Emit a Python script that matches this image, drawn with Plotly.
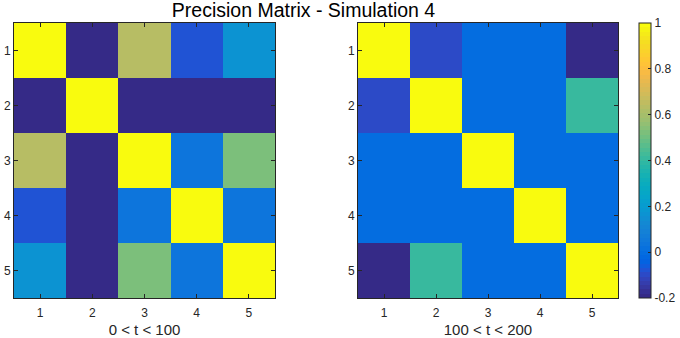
import plotly.graph_objects as go

# ---- data ----
idx = [1, 2, 3, 4, 5]
tick_labels = ["1", "2", "3", "4", "5"]
left_matrix = [
    [1.00, -0.20, 0.635, -0.08, 0.165],
    [-0.20, 1.00, -0.20, -0.20, -0.20],
    [0.635, -0.20, 1.00, 0.035, 0.52],
    [-0.08, -0.20, 0.035, 1.00, 0.035],
    [0.165, -0.20, 0.52, 0.035, 1.00],
]
right_matrix = [
    [1.00, -0.10, 0.00, 0.00, -0.20],
    [-0.10, 1.00, 0.00, 0.00, 0.41],
    [0.00, 0.00, 1.00, 0.00, 0.00],
    [0.00, 0.00, 0.00, 1.00, 0.00],
    [-0.20, 0.41, 0.00, 0.00, 1.00],
]
cbar_vals = [-0.2, 0, 0.2, 0.4, 0.6, 0.8, 1]
cbar_text = ["-0.2", "0", "0.2", "0.4", "0.6", "0.8", "1"]
title_text = "Precision Matrix - Simulation 4"
left_xlabel = "0 < t < 100"
right_xlabel = "100 < t < 200"

# ---- parula colormap (64 entries) ----
parula = [
    [0.2081, 0.1663, 0.5292], [0.2116, 0.1898, 0.5777], [0.2123, 0.2138, 0.6270], [0.2081, 0.2386, 0.6771],
    [0.1959, 0.2645, 0.7279], [0.1707, 0.2919, 0.7792], [0.1253, 0.3242, 0.8303], [0.0591, 0.3598, 0.8683],
    [0.0117, 0.3875, 0.8820], [0.0060, 0.4086, 0.8828], [0.0165, 0.4266, 0.8786], [0.0329, 0.4430, 0.8720],
    [0.0498, 0.4586, 0.8641], [0.0629, 0.4737, 0.8554], [0.0723, 0.4887, 0.8467], [0.0779, 0.5040, 0.8384],
    [0.0793, 0.5200, 0.8312], [0.0749, 0.5375, 0.8263], [0.0641, 0.5570, 0.8240], [0.0488, 0.5772, 0.8228],
    [0.0343, 0.5966, 0.8199], [0.0265, 0.6137, 0.8135], [0.0239, 0.6287, 0.8038], [0.0231, 0.6418, 0.7913],
    [0.0228, 0.6535, 0.7768], [0.0267, 0.6642, 0.7607], [0.0384, 0.6743, 0.7436], [0.0590, 0.6838, 0.7254],
    [0.0843, 0.6928, 0.7062], [0.1133, 0.7015, 0.6859], [0.1453, 0.7098, 0.6646], [0.1801, 0.7177, 0.6424],
    [0.2178, 0.7250, 0.6193], [0.2586, 0.7317, 0.5954], [0.3022, 0.7376, 0.5712], [0.3482, 0.7424, 0.5473],
    [0.3953, 0.7459, 0.5244], [0.4420, 0.7481, 0.5033], [0.4871, 0.7491, 0.4840], [0.5300, 0.7491, 0.4661],
    [0.5709, 0.7485, 0.4494], [0.6099, 0.7473, 0.4337], [0.6473, 0.7456, 0.4188], [0.6834, 0.7435, 0.4044],
    [0.7184, 0.7411, 0.3905], [0.7525, 0.7384, 0.3768], [0.7858, 0.7356, 0.3633], [0.8185, 0.7327, 0.3498],
    [0.8507, 0.7299, 0.3360], [0.8824, 0.7274, 0.3217], [0.9139, 0.7258, 0.3063], [0.9450, 0.7261, 0.2886],
    [0.9739, 0.7314, 0.2666], [0.9938, 0.7455, 0.2403], [0.9990, 0.7653, 0.2164], [0.9955, 0.7861, 0.1967],
    [0.9880, 0.8066, 0.1794], [0.9789, 0.8271, 0.1633], [0.9697, 0.8481, 0.1475], [0.9626, 0.8705, 0.1309],
    [0.9589, 0.8949, 0.1132], [0.9598, 0.9218, 0.0948], [0.9661, 0.9514, 0.0755], [0.9763, 0.9831, 0.0538],
]
n = len(parula)
colorscale = []
for i, (r, g, b) in enumerate(parula):
    c = f"rgb({round(r*255)},{round(g*255)},{round(b*255)})"
    colorscale.append([i / n, c])
    colorscale.append([(i + 1) / n if i < n - 1 else 1.0, c])

W, H = 680, 338
def px_x(p): return p / W
def px_y(p): return 1 - p / H

top, bottom = 23, 298
axis_color = "#262626"
font_family = "Liberation Sans, Arial, sans-serif"

fig = go.Figure()
fig.add_trace(go.Heatmap(z=left_matrix, x=idx, y=idx, colorscale=colorscale, zmin=-0.2, zmax=1,
                         showscale=False, xaxis="x", yaxis="y"))
fig.add_trace(go.Heatmap(z=right_matrix, x=idx, y=idx, colorscale=colorscale, zmin=-0.2, zmax=1,
                         xaxis="x2", yaxis="y2",
                         colorbar=dict(x=px_x(639), xanchor="left", xref="paper",
                                       y=px_y(bottom), yanchor="bottom", yref="paper",
                                       len=(bottom - top) / H, lenmode="fraction",
                                       thickness=12, thicknessmode="pixels",
                                       outlinewidth=1, outlinecolor=axis_color,
                                       ticks="inside", ticklen=3, tickcolor=axis_color,
                                       tickvals=cbar_vals, ticktext=cbar_text,
                                       tickfont=dict(size=12, color=axis_color, family=font_family),
                                       xpad=0, ypad=0)))

common_x = dict(range=[0.5, 5.5], tickvals=idx, ticktext=tick_labels, ticks="inside", ticklen=4,
                tickcolor=axis_color, showline=True, linecolor=axis_color, linewidth=1, mirror="ticks",
                showgrid=False, zeroline=False, automargin=False,
                tickfont=dict(size=12, color=axis_color, family=font_family),
                ticklabelstandoff=4, title_standoff=5)
common_y = dict(range=[5.5, 0.5], tickvals=idx, ticktext=tick_labels, ticks="inside", ticklen=4,
                tickcolor=axis_color, showline=True, linecolor=axis_color, linewidth=1, mirror="ticks",
                showgrid=False, zeroline=False, automargin=False,
                tickfont=dict(size=12, color=axis_color, family=font_family))

fig.update_layout(
    width=W, height=H,
    margin=dict(l=0, r=0, t=0, b=0),
    paper_bgcolor="white", plot_bgcolor="white",
    font=dict(family=font_family, color=axis_color),
    xaxis=dict(domain=[px_x(14), px_x(275)], anchor="y",
               title=dict(text=left_xlabel, font=dict(size=15, color=axis_color)), **common_x),
    yaxis=dict(domain=[px_y(bottom), px_y(top)], anchor="x", **common_y),
    xaxis2=dict(domain=[px_x(358), px_x(618)], anchor="y2",
                title=dict(text=right_xlabel, font=dict(size=15, color=axis_color)), **common_x),
    yaxis2=dict(domain=[px_y(bottom), px_y(top)], anchor="x2", **common_y),
    title=dict(text=title_text, x=px_x(303.5), xanchor="center", xref="paper",
               y=px_y(10.5), yanchor="middle", yref="paper",
               font=dict(size=19.5, color="black", family=font_family)),
)

fig.write_html("out.html", config={"displayModeBar": False},
               post_script="document.body.style.margin='0px';")
